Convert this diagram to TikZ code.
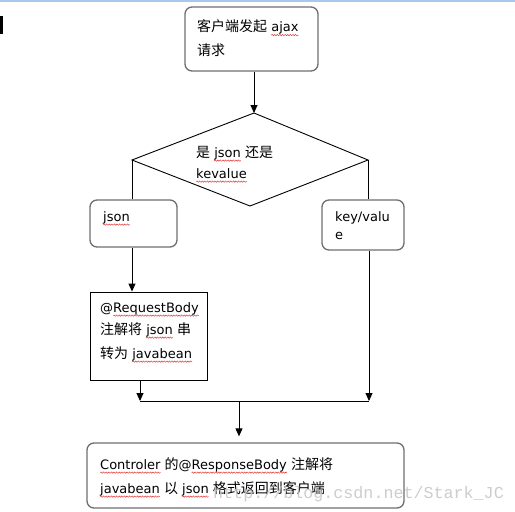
\documentclass[tikz,border=0pt]{standalone}
\usepackage{fontspec}
\setmainfont{DejaVu Sans}
\newfontfamily\cjk[Scale=1.077]{Noto Sans CJK SC}
\newfontfamily\wmfont{Liberation Mono}
\usetikzlibrary{arrows.meta,decorations.pathmorphing}
\definecolor{boxgray}{HTML}{6E6E6E}
\definecolor{topblue}{HTML}{A9C8EC}
\definecolor{wmgray}{HTML}{C4C4C4}
\definecolor{sqred}{HTML}{E03030}
\newcommand\sq[1]{\tikz[baseline=(w.base),x=1cm,y=1cm]{\node[inner sep=0pt,outer sep=0pt,anchor=base,draw=none] (w) at (0,0) {#1};\draw[overlay,sqred,line width=0.45pt,decorate,decoration={snake,amplitude=0.7pt,segment length=2.6pt}] ([yshift=-3.6pt]w.base west) -- ([yshift=-3.6pt]w.base east);}}
\newcommand\zh[1]{{\cjk #1}}
\begin{document}
\begin{tikzpicture}[x=1pt,y=-1pt,
  font=\fontsize{13}{15}\selectfont,
  rbox/.style={draw=boxgray, line width=1.3pt, rounded corners=7pt, inner sep=0pt},
  sbox/.style={draw=black, line width=0.9pt, inner sep=0pt},
  lbl/.style={anchor=base west, inner sep=0pt},
  conn/.style={line width=0.9pt},
  arr/.style={conn, -{Triangle[length=8pt,width=7pt]}}]
\useasboundingbox (0,0) rectangle (515,512);
\fill[topblue] (0,0) rectangle (515,1.5);
\fill[black] (0,16) rectangle (3,34);
% boxes
\node[rbox, minimum width=133pt, minimum height=64pt] (start) at (251.5,39) {};
\node[rbox, minimum width=87pt, minimum height=47pt] (json) at (133.5,223.5) {};
\node[rbox, minimum width=82pt, minimum height=50pt] (key) at (363,225) {};
\node[sbox, minimum width=117pt, minimum height=88pt] (req) at (148.5,336) {};
\node[rbox, minimum width=317pt, minimum height=65pt] (end) at (245.5,475.5) {};
% diamond
\coordinate (dT) at (254,113);
\coordinate (dL) at (132,160);
\coordinate (dR) at (368,160);
\coordinate (dB) at (250,206);
\draw[conn, line join=miter] (dT) -- (dR) -- (dB) -- (dL) -- cycle;
% merge points
\coordinate (mL) at (140,401);
\coordinate (mR) at (369,401);
\coordinate (mC) at (239,401);
% connectors
\draw[arr] (dT |- start.south) -- (dT);
\draw[conn] (dL) -- (dL |- json.north);
\draw[conn] (dR) -- (dR |- key.north);
\draw[arr] (dL |- json.south) -- (dL |- req.north);
\draw[arr] (mL |- req.south) -- (mL);
\draw[arr] (mR |- key.south) -- (mR);
\draw[conn] (mL) -- (mR);
\draw[arr, shorten >=6pt] (mC) -- (mC |- end.north);
% texts
\node[lbl] (t1) at (197,31.5) {\zh{客户端发起} \sq{ajax}};
\node[lbl] (t2) at (197,55.5) {\zh{请求}};
\node[lbl] (d1) at (196,157) {\zh{是} \sq{json} \zh{还是}};
\node[lbl] (d2) at (196,178) {\sq{kevalue}};
\node[lbl] (j1) at (103,221) {\sq{json}};
\node[lbl] (k1) at (335,221) {key/valu};
\node[lbl] (k2) at (335,239) {e};
\node[lbl] (r1) at (100,312) {@\sq{RequestBody}};
\node[lbl] (r2) at (100,334) {\zh{注解将} \sq{json} \zh{串}};
\node[lbl] (r3) at (100,358) {\zh{转为} \sq{javabean}};
\node[lbl] (e1) at (100,469) {\sq{Controler} \zh{的}@\sq{ResponseBody} \zh{注解将}};
\node[lbl] (e2) at (100,493) {\sq{javabean} \zh{以} \sq{json} \zh{格式返回到客户端}};
\node[lbl, text=wmgray, opacity=0.85, font=\wmfont\fontsize{16.7}{18}\selectfont] (wm) at (213,498) {http://blog.csdn.net/Stark\_JC};
\end{tikzpicture}
\end{document}
